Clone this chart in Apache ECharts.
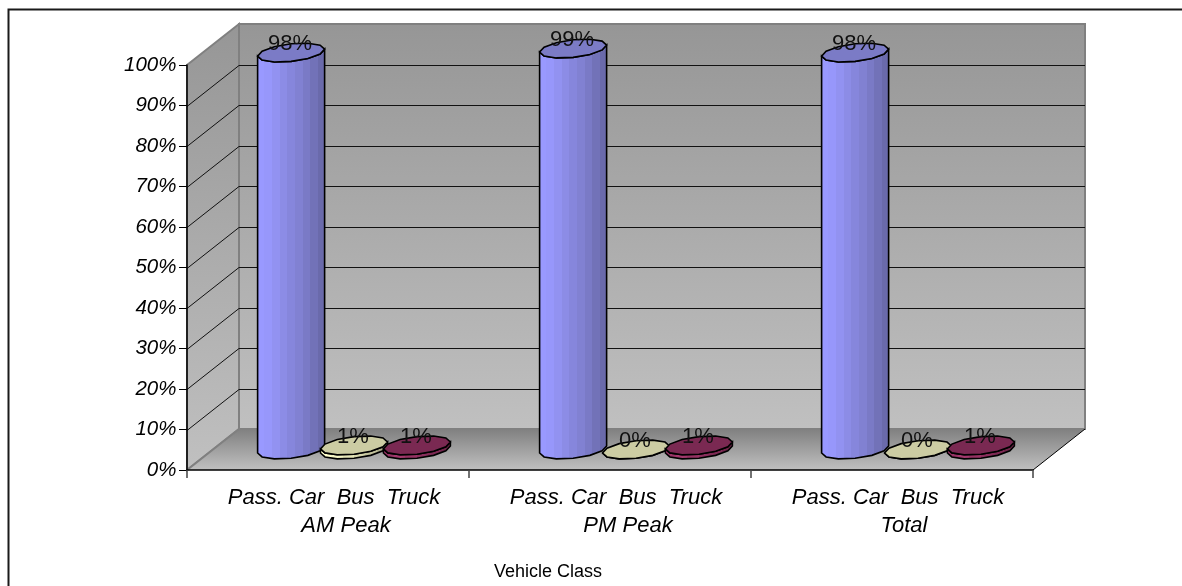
<!DOCTYPE html>
<html>
<head>
<meta charset="utf-8">
<style>html,body{margin:0;padding:0;background:#fff}#chart{width:1182px;height:586px}</style>
<script src="https://cdn.jsdelivr.net/npm/echarts@6/dist/echarts.min.js"></script>
</head>
<body>
<div id="chart"></div>
<script>
// Vehicle class shares by time period
const periods = ['AM Peak', 'PM Peak', 'Total'];
const vehicleClasses = ['Pass. Car', 'Bus', 'Truck'];
const passCar = [98, 99, 98];
const bus = [1, 0, 0];
const truck = [1, 1, 1];
const axisTicks = [0, 10, 20, 30, 40, 50, 60, 70, 80, 90, 100];

// Oblique projection of the plot box
const DEPTH_X = 52;
const DEPTH_Y = -41;
const BAR_SPACING = 0.223;
const CAP_RX = 33.5;
const CAP_RY = 8.8;
const CAP_TILT = 3.5;
const FACETS = 12;
const OUTLINE = '#000';
const EDGE = '#808080';
const FONT = '"Liberation Sans", Arial, sans-serif';

function vgrad(top, bottom) {
  return new echarts.graphic.LinearGradient(0, 0, 0, 1, [
    { offset: 0, color: top }, { offset: 1, color: bottom }
  ]);
}

function capPoint(cx, cy, t) {
  return [cx + CAP_RX * Math.cos(t), cy + CAP_RY * Math.sin(t) - CAP_TILT * Math.cos(t)];
}

function capOutline(cx, cy) {
  const pts = [];
  for (let i = 0; i < FACETS; i++) pts.push(capPoint(cx, cy, i * 2 * Math.PI / FACETS));
  return pts;
}

function bodyOutline(cx, yBase, yTop) {
  const pts = [];
  for (let i = 0; i <= FACETS / 2; i++) pts.push(capPoint(cx, yBase, i * 2 * Math.PI / FACETS));
  for (let i = FACETS / 2; i >= 0; i--) pts.push(capPoint(cx, yTop, i * 2 * Math.PI / FACETS));
  return pts;
}

function wallsRenderer(params, api) {
  const cs = params.coordSys;
  const top = api.coord([0, 100])[1];
  const base = api.coord([0, 0])[1];
  const left = cs.x, right = cs.x + cs.width;
  const dx = DEPTH_X, dy = DEPTH_Y;
  return {
    type: 'group',
    children: [
      { type: 'polygon', shape: { points: [[left + dx, top + dy], [right + dx, top + dy], [right + dx, base + dy], [left + dx, base + dy]] },
        style: { fill: vgrad('#969696', '#c0c0c0'), stroke: EDGE, lineWidth: 2 } },
      { type: 'polygon', shape: { points: [[left, top], [left + dx, top + dy], [left + dx, base + dy], [left, base]] },
        style: { fill: vgrad('#969696', '#c0c0c0'), stroke: EDGE, lineWidth: 2 } },
      { type: 'polygon', shape: { points: [[left + dx, base + dy], [right + dx, base + dy], [right, base], [left, base]] },
        style: { fill: vgrad('#808080', '#c0c0c0') } },
      { type: 'polyline', shape: { points: [[left, base], [left + dx, base + dy]] }, style: { stroke: EDGE, lineWidth: 2, fill: 'none' } },
      { type: 'polyline', shape: { points: [[right, base], [right + dx, base + dy]] }, style: { stroke: OUTLINE, lineWidth: 1, fill: 'none' } }
    ]
  };
}

function gridlineRenderer(params, api) {
  const v = api.value(0);
  if (v === 0 || v === 100) return null;
  const cs = params.coordSys;
  const y = Math.round(api.coord([0, v])[1]) + 0.5;
  return {
    type: 'polyline',
    shape: { points: [[cs.x, y], [cs.x + DEPTH_X, y + DEPTH_Y], [cs.x + cs.width + DEPTH_X, y + DEPTH_Y]] },
    style: { stroke: '#111', lineWidth: 1, fill: 'none' }
  };
}

// Each mark is a short faceted cylinder standing mid-way into the box
function cylinderRenderer(palette) {
  return function (params, api) {
    const i = api.value(0), v = api.value(1);
    const bandWidth = api.size([1, 0])[0];
    const slot = params.seriesIndex - 2 - 1;
    const cx = api.coord([i, 0])[0] + slot * bandWidth * BAR_SPACING + DEPTH_X / 2;
    const yBase = api.coord([i, 0])[1] + DEPTH_Y / 2;
    const yTop = api.coord([i, v])[1] + DEPTH_Y / 2;
    return {
      type: 'group',
      children: [
        { type: 'polygon', shape: { points: bodyOutline(cx, yBase, yTop) },
          style: { fill: new echarts.graphic.LinearGradient(0, 0, 1, 0, palette.side), stroke: OUTLINE, lineWidth: 1.6 } },
        { type: 'polygon', shape: { points: capOutline(cx, yTop) },
          style: { fill: palette.cap, stroke: OUTLINE, lineWidth: 1.6 } },
        { type: 'text', z2: 10,
          style: { text: v + '%', x: cx - 1, y: yTop - 8.5, align: 'center', verticalAlign: 'middle',
                   font: '22px ' + FONT, fill: '#111' } }
      ]
    };
  };
}

function bands(colors) {
  const stops = [];
  colors.forEach((c, k) => {
    stops.push({ offset: k / colors.length, color: c });
    stops.push({ offset: (k + 1) / colors.length, color: c });
  });
  return stops;
}

const palettes = [
  { cap: '#7b7bc6', side: bands(['#9999ff', '#9797fb', '#9292f1', '#8c8ce6', '#8686dc', '#8181d2', '#7a7ac6', '#7272b8', '#6a6aab']) },
  { cap: '#ccccA3', side: bands(['#ffffcc', '#f4f4c4', '#e6e6b8', '#d4d4aa', '#c0c09a', '#aaaa88']) },
  { cap: '#7a2952', side: bands(['#993366', '#a33a6e', '#973364', '#8a2e5c', '#7e2a54', '#70254a']) }
];

function markSeries(name, values, palette) {
  return {
    type: 'custom', name: name, coordinateSystem: 'cartesian2d',
    data: values.map((v, i) => [i, v]),
    encode: { x: 0, y: 1 },
    renderItem: cylinderRenderer(palette),
    z: 5, silent: true
  };
}

const labelBase = { color: '#000', fontFamily: FONT, fontStyle: 'italic', fontSize: 20.5 };
const rowLabel = { color: '#000', fontFamily: FONT, fontStyle: 'italic', fontSize: 22 };

const chart = echarts.init(document.getElementById('chart'), null, { renderer: 'canvas' });
chart.setOption({
  animation: false,
  backgroundColor: '#fff',
  graphic: [
    { type: 'polyline', shape: { points: [[8.5, 586], [8.5, 9.5], [1182, 9.5]] }, style: { stroke: '#1a1a1a', lineWidth: 2, fill: 'none' } }
  ],
  grid: { left: 187, right: 149, top: 65, bottom: 116, containLabel: false },
  xAxis: [
    {
      type: 'category', data: periods, position: 'bottom',
      axisLine: { show: true, lineStyle: { color: '#000', width: 1.5 } },
      axisTick: { show: true, length: 8, lineStyle: { color: '#444', width: 1.5 } },
      axisLabel: Object.assign({}, rowLabel, {
        interval: 0, margin: 17, padding: [0, 0, 0, 12],
        formatter: () => vehicleClasses.join('  ')
      }),
      name: 'Vehicle Class', nameLocation: 'middle', nameGap: 93,
      nameTextStyle: { color: '#000', fontFamily: FONT, fontSize: 18, padding: [0, 124, 0, 0] },
      z: 8
    },
    {
      type: 'category', data: periods, position: 'bottom',
      axisLine: { show: false }, axisTick: { show: false },
      axisLabel: Object.assign({}, rowLabel, {
        interval: 0, margin: 45, padding: [0, 0, 0, 36],
        formatter: v => (v === 'Total' ? '{narrow|' + v + '}' : v),
        rich: { narrow: Object.assign({}, rowLabel, { padding: [0, 12, 0, 0] }) }
      })
    }
  ],
  yAxis: {
    type: 'value', min: 0, max: 100, interval: 10,
    axisLine: { show: true, lineStyle: { color: '#000', width: 1.5 } },
    axisTick: { show: true, length: 8, lineStyle: { color: '#000', width: 1 } },
    axisLabel: Object.assign({}, labelBase, { margin: 10.5, formatter: '{value}%' }),
    splitLine: { show: false },
    z: 8
  },
  series: [
    { type: 'custom', name: 'Walls', data: [[0]], renderItem: wallsRenderer, z: 1, silent: true },
    { type: 'custom', name: 'Gridlines', data: axisTicks.map(v => [v]), encode: { x: -1, y: -1 }, renderItem: gridlineRenderer, z: 2, silent: true },
    markSeries('Pass. Car', passCar, palettes[0]),
    markSeries('Bus', bus, palettes[1]),
    markSeries('Truck', truck, palettes[2])
  ]
});
</script>
</body>
</html>
